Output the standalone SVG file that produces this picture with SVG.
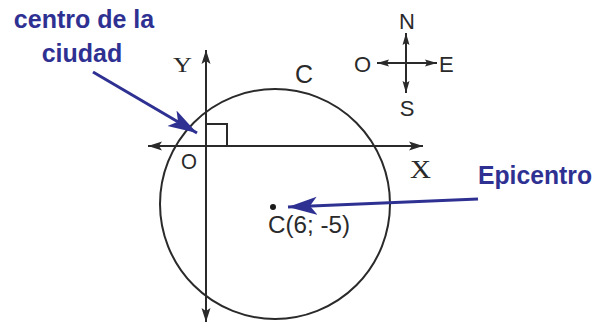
<svg xmlns="http://www.w3.org/2000/svg" width="597" height="324" viewBox="0 0 597 324">
<style>
.ax{stroke:#2a2a2a;stroke-width:2;fill:none}
.bl{stroke:#2e3192;stroke-width:3;fill:none}
.serif{font-family:"Liberation Serif",serif;fill:#2a2a2a}
.sans{font-family:"Liberation Sans",Arial,sans-serif;fill:#2a2a2a}
.lbl{font-family:"Liberation Sans",Arial,sans-serif;font-weight:bold;fill:#2e3192;font-size:25px}
</style>
<defs>
<marker id="ah" markerUnits="userSpaceOnUse" markerWidth="16" markerHeight="10" refX="14" refY="5" orient="auto">
<path d="M0,0.5 L14,5 L0,9.5 L3,5 Z" fill="#2a2a2a"/>
</marker>
<marker id="ahs" markerUnits="userSpaceOnUse" markerWidth="14" markerHeight="8" refX="12" refY="4" orient="auto">
<path d="M0,0.5 L12,4 L0,7.5 L2,4 Z" fill="#2a2a2a"/>
</marker>
<marker id="bh" markerUnits="userSpaceOnUse" markerWidth="32" markerHeight="20" refX="29" refY="10" orient="auto">
<path d="M0,1 L29,10 L0,19 L7,10 Z" fill="#2e3192"/>
</marker>
</defs>
<g id="circle">
<circle cx="275" cy="204" r="115" class="ax"/>
<text x="295" y="83" class="sans" font-size="25">C</text>
</g>
<g id="axes">
<line x1="206" y1="322" x2="206" y2="50" class="ax" marker-end="url(#ah)"/>
<line x1="206" y1="50" x2="206" y2="322" class="ax" marker-end="url(#ah)"/>
<line x1="206" y1="146" x2="148" y2="146" class="ax" marker-end="url(#ah)"/>
<line x1="206" y1="146" x2="423" y2="146" class="ax" marker-end="url(#ah)"/>
<path d="M206,124 H227 V146" class="ax"/>
<text x="173" y="72" class="serif" font-size="22" textLength="19" lengthAdjust="spacingAndGlyphs">Y</text>
<text x="410" y="178" class="serif" font-size="25" textLength="21" lengthAdjust="spacingAndGlyphs">X</text>
<text x="181" y="169" class="sans" font-size="22" textLength="16" lengthAdjust="spacingAndGlyphs">O</text>
</g>
<g id="compass">
<line x1="406" y1="63" x2="406" y2="33" class="ax" stroke-width="1.6" marker-end="url(#ahs)"/>
<line x1="406" y1="63" x2="406" y2="93" class="ax" stroke-width="1.6" marker-end="url(#ahs)"/>
<line x1="406" y1="63" x2="377" y2="63" class="ax" stroke-width="1.6" marker-end="url(#ahs)"/>
<line x1="406" y1="63" x2="437" y2="63" class="ax" stroke-width="1.6" marker-end="url(#ahs)"/>
<text x="407" y="29" class="sans" font-size="22" text-anchor="middle">N</text>
<text x="407" y="116" class="sans" font-size="22" text-anchor="middle">S</text>
<text x="354" y="72" class="sans" font-size="22">O</text>
<text x="439" y="72" class="sans" font-size="22">E</text>
</g>
<g id="epicentro">
<circle cx="273" cy="207" r="3" fill="#1a1a1a"/>
<text x="268" y="233" class="sans" font-size="23" textLength="82" lengthAdjust="spacingAndGlyphs">C(6; -5)</text>
</g>
<g id="label-ciudad">
<text x="84" y="28" class="lbl" text-anchor="middle">centro de la</text>
<text x="82" y="62" class="lbl" text-anchor="middle">ciudad</text>
</g>
<g id="label-epicentro">
<text x="478" y="184" class="lbl" font-size="26" textLength="114" lengthAdjust="spacingAndGlyphs">Epicentro</text>
</g>
<g id="connectors">
<line x1="93" y1="72" x2="197" y2="133" class="bl" marker-end="url(#bh)"/>
<line x1="478" y1="199" x2="288" y2="207" class="bl" marker-end="url(#bh)"/>
</g>
</svg>
